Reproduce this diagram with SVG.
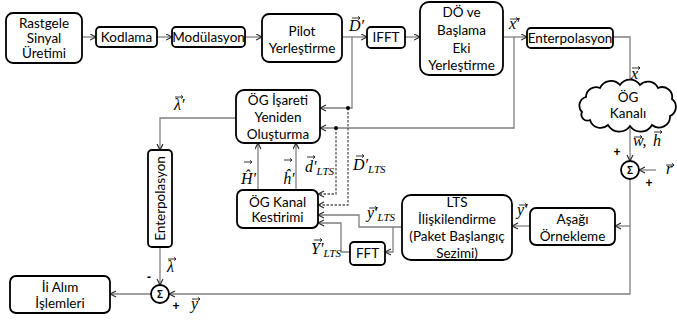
<svg xmlns="http://www.w3.org/2000/svg" xmlns:xlink="http://www.w3.org/1999/xlink" width="677" height="322" viewBox="0 0 677 322">
<style>
.box{fill:#fff;stroke:#000;stroke-width:1.8}
.t{font-family:Lato,"Open Sans",sans-serif;font-size:13.5px;text-anchor:middle;fill:#000}
.m{font-family:"Liberation Serif",serif;font-style:italic;font-size:16px;fill:#000}
.s{font-size:11px}
.ln{fill:none;stroke:#808080;stroke-width:1.3}
.ar{marker-end:url(#ah)}
.ds{stroke:#555;stroke-dasharray:2.5 1.5}
.v{fill:none;stroke:#000;stroke-width:0.8}
.pm{font-family:"Liberation Sans",sans-serif;font-weight:bold;font-size:12px;text-anchor:middle}
.sg{font-family:"Liberation Sans",sans-serif;font-weight:bold;font-size:10px;text-anchor:middle}
</style>
<defs>
<marker id="ah" markerUnits="userSpaceOnUse" markerWidth="8" markerHeight="8" refX="6.5" refY="3.5" orient="auto">
<path d="M0.5,0.5 L6.5,3.5 L0.5,6.5" fill="none" stroke="#222" stroke-width="1.1"/>
</marker>
<path id="vec" d="M0,0 H8 M6,-1.7 L8,0 L6,1.7"/>
</defs>

<g id="connectors">
<path class="ln ar" d="M82,37 H96"/>
<path class="ln ar" d="M157,37 H172"/>
<path class="ln ar" d="M245,37 H262"/>
<path class="ln ar" d="M342,37 H367"/>
<path class="ln ar" d="M405,37 H420"/>
<path class="ln ar" d="M503,37 H527"/>
<path class="ln ar" d="M613,37 H630 V85"/>
<path class="ln ar" d="M630,126 V161"/>
<path class="ln ar" d="M656,170 H639"/>
<path class="ln ar" d="M630,179 V294 H169"/>
<path class="ln ar" d="M630,226 H615"/>
<path class="ln ar" d="M530,226 H512"/>
<path class="ln ar" d="M402,227 H359 V215 H318"/>
<path class="ln ar" d="M393,227 V252 H385"/>
<path class="ln ar" d="M350,252 H341 V223 H318"/>
<path class="ln ar" d="M352,37 V108 H320"/>
<path class="ln ar" d="M514,37 V128 H320"/>
<path class="ln ds ar" d="M348,108 V205 H318"/>
<path class="ln ds ar" d="M336,128 V194 H318"/>
<circle cx="348" cy="108" r="2" fill="#000"/>
<circle cx="336" cy="128" r="2" fill="#000"/>
<path class="ln ar" d="M258,190 V143"/>
<path class="ln ar" d="M296,190 V143"/>
<path class="ln ar" d="M236,118 H160 V150"/>
<path class="ln ar" d="M160,247 V285"/>
<path class="ln ar" d="M151,294 H110"/>
</g>

<g id="rastgele"><rect class="box" x="6" y="13" width="76" height="50" rx="7"/>
<text class="t" x="44" y="27.5">Rastgele</text><text class="t" x="44" y="42.5">Sinyal</text><text class="t" x="44" y="57.5">Üretimi</text></g>
<g id="kodlama"><rect class="box" x="96" y="27" width="61" height="20" rx="4"/><text class="t" x="126.5" y="41.5">Kodlama</text></g>
<g id="modulasyon"><rect class="box" x="172" y="27" width="73" height="20" rx="4"/><text class="t" x="208.5" y="41.5">Modülasyon</text></g>
<g id="pilot"><rect class="box" x="262" y="14" width="80" height="48" rx="7"/>
<text class="t" x="302" y="35.5">Pilot</text><text class="t" x="302" y="52.5">Yerleştirme</text></g>
<g id="ifft"><rect class="box" x="367" y="27" width="38" height="21" rx="4"/><text class="t" x="386" y="42">IFFT</text></g>
<g id="do"><rect class="box" x="420" y="2" width="83" height="73" rx="9"/>
<text class="t" x="461.5" y="17">DÖ ve</text><text class="t" x="461.5" y="35">Başlama</text><text class="t" x="461.5" y="52.5">Eki</text><text class="t" x="461.5" y="70">Yerleştirme</text></g>
<g id="enterp1"><rect class="box" x="527" y="28" width="86" height="20" rx="4"/><text class="t" x="570" y="42.5">Enterpolasyon</text></g>
<g id="kanal"><path class="box" d="M582,112 A9,9 0 0 1 586,97 A10,10 0 0 1 600,88 A12,12 0 0 1 620,85 A12,12 0 0 1 640,85 A11,11 0 0 1 658,88 A10,10 0 0 1 672,99 A10,10 0 0 1 670,116 A11,11 0 0 1 652,125 A13,13 0 0 1 630,126 A13,13 0 0 1 608,125 A11,11 0 0 1 590,120 A6,6 0 0 1 582,112 Z"/>
<text class="t" x="628" y="102">ÖG</text><text class="t" x="628" y="118">Kanalı</text></g>
<g id="sum1"><circle class="box" cx="630" cy="170" r="9"/><text class="sg" x="630" y="173.5">Σ</text></g>
<g id="asagi"><rect class="box" x="530" y="208" width="85" height="37" rx="6"/>
<text class="t" x="572.5" y="223.5">Aşağı</text><text class="t" x="572.5" y="240.5">Örnekleme</text></g>
<g id="lts"><rect class="box" x="402" y="195" width="110" height="65" rx="9"/>
<text class="t" x="457" y="206.5">LTS</text><text class="t" x="457" y="224">İlişkilendirme</text><text class="t" x="457" y="241">(Paket Başlangıç</text><text class="t" x="457" y="257.5">Sezimi)</text></g>
<g id="fft"><rect class="box" x="350" y="242" width="35" height="23" rx="4"/><text class="t" x="367.5" y="258">FFT</text></g>
<g id="kestirim"><rect class="box" x="237" y="190" width="81" height="38" rx="6"/>
<text class="t" x="277.5" y="206.5">ÖG Kanal</text><text class="t" x="277.5" y="221.5">Kestirimi</text></g>
<g id="isaret"><rect class="box" x="236" y="90" width="84" height="53" rx="8"/>
<text class="t" x="278" y="104.5">ÖG İşareti</text><text class="t" x="278" y="121.5">Yeniden</text><text class="t" x="278" y="138.5">Oluşturma</text></g>
<g id="enterp2"><rect class="box" x="148" y="150" width="24" height="97" rx="4"/>
<text class="t" transform="translate(164.5,198.5) rotate(-90)">Enterpolasyon</text></g>
<g id="sum2"><circle class="box" cx="160" cy="294" r="9"/><text class="sg" x="160" y="297.5">Σ</text></g>
<g id="alim"><rect class="box" x="10" y="276" width="100" height="37" rx="6"/>
<text class="t" x="60" y="291.5">İi Alım</text><text class="t" x="60" y="307.5">İşlemleri</text></g>

<g id="labels">
<text class="m" x="349" y="31">D′</text><use href="#vec" class="v" x="352" y="18"/>
<text class="m" x="509" y="29">x′</text><use href="#vec" class="v" x="510" y="19"/>
<text class="m" x="631" y="79">x</text><use href="#vec" class="v" x="632" y="68"/>
<text class="m" x="174" y="110">λ′</text><use href="#vec" class="v" x="175" y="97"/>
<text class="m" x="633" y="146">w,</text><use href="#vec" class="v" x="634" y="137"/>
<text class="m" x="653" y="146">h</text><use href="#vec" class="v" x="654" y="132"/>
<text class="m" x="666" y="174">r</text><use href="#vec" class="v" x="666" y="165"/>
<text class="m" x="241" y="184">Ĥ′</text><use href="#vec" class="v" x="244" y="162"/>
<text class="m" x="283" y="184">ĥ′</text><use href="#vec" class="v" x="284" y="160"/>
<text class="m" x="305" y="172">d′<tspan class="s" dy="3">LTS</tspan></text><use href="#vec" class="v" x="307" y="157"/>
<text class="m" x="353" y="170">D′<tspan class="s" dy="3">LTS</tspan></text><use href="#vec" class="v" x="356" y="156"/>
<text class="m" x="367" y="218">y′<tspan class="s" dy="3">LTS</tspan></text><use href="#vec" class="v" x="369" y="208"/>
<text class="m" x="311" y="254">Y′<tspan class="s" dy="3">LTS</tspan></text><use href="#vec" class="v" x="314" y="240"/>
<text class="m" x="517" y="215">y′</text><use href="#vec" class="v" x="519" y="205"/>
<text class="m" x="167" y="272">λ</text><use href="#vec" class="v" x="168" y="259"/>
<text class="m" x="191" y="309">y</text><use href="#vec" class="v" x="192" y="299"/>
<text class="pm" x="617" y="156">+</text>
<text class="pm" x="649" y="187">+</text>
<text class="pm" x="149" y="281">-</text>
<text class="pm" x="176" y="310">+</text>
</g>
</svg>
